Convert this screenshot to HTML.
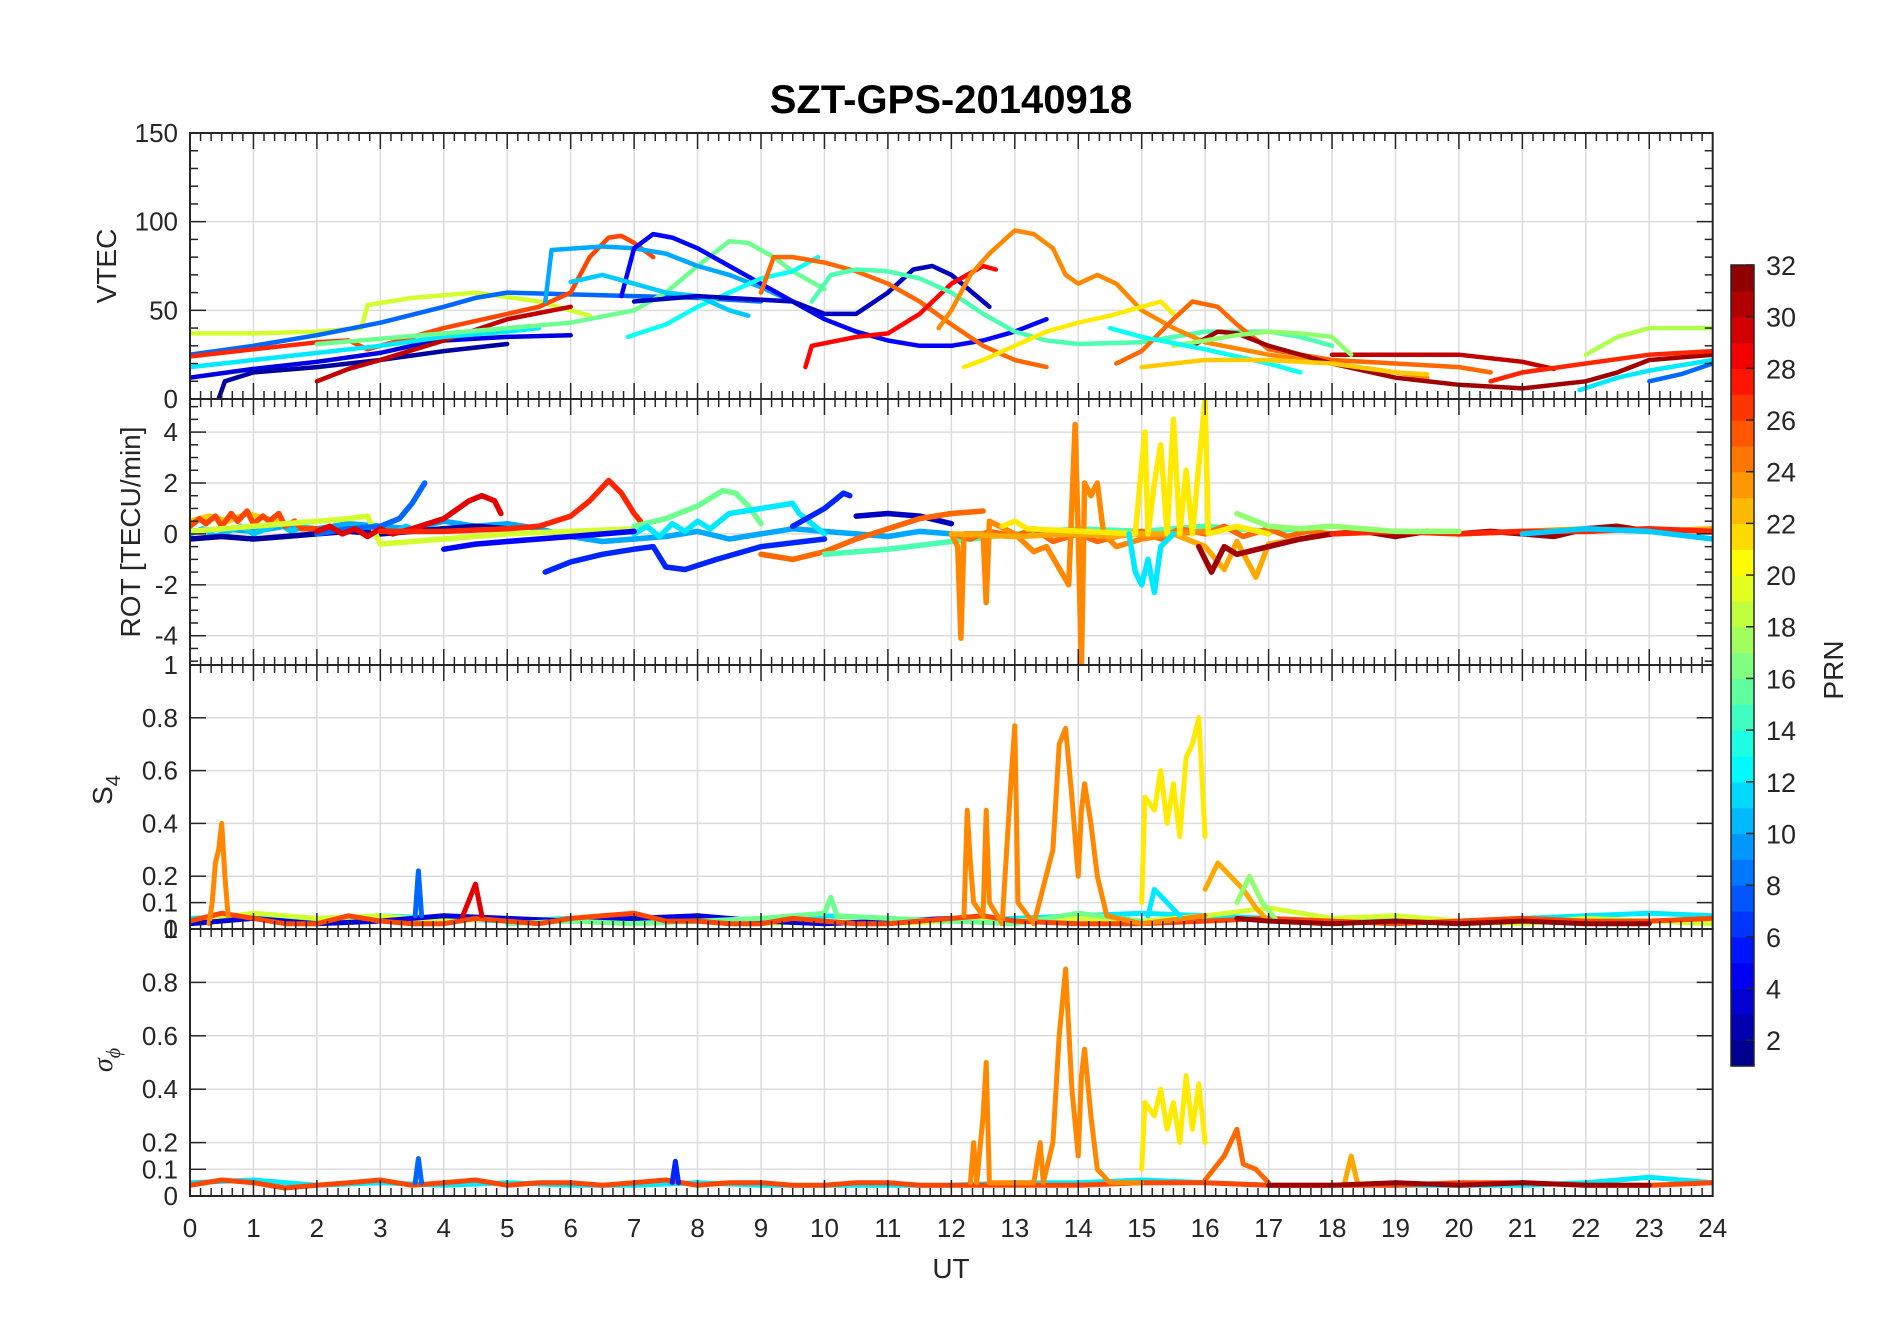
<!DOCTYPE html>
<html><head><meta charset="utf-8"><style>
html,body{margin:0;padding:0;background:#fff;}
svg{display:block;font-family:"Liberation Sans",Arial,sans-serif;}
</style></head><body>
<svg id="fig" width="1902" height="1330" viewBox="0 0 1902 1330" xmlns="http://www.w3.org/2000/svg">
<rect x="0" y="0" width="1902" height="1330" fill="#fff"/>
<text x="951" y="113" text-anchor="middle" font-size="40" font-weight="bold" fill="#000">SZT-GPS-20140918</text>
<g id="grid"></g>
<g id="marks"></g>
<g id="axes"></g>
<g id="cbar"></g>
<text transform="translate(116,266) rotate(-90)" text-anchor="middle" font-size="28" fill="#262626">VTEC</text>
<text transform="translate(140,532) rotate(-90)" text-anchor="middle" font-size="28" fill="#262626">ROT [TECU/min]</text>
<text transform="translate(112,790) rotate(-90)" text-anchor="middle" font-size="28" fill="#262626">S<tspan font-size="20" dy="8">4</tspan></text>
<text transform="translate(112,1060) rotate(-90)" text-anchor="middle" font-size="28" font-style="italic" font-family="Liberation Serif, serif" fill="#262626">σ<tspan font-size="20" dy="8">ϕ</tspan></text>
<text x="951" y="1278" text-anchor="middle" font-size="28" fill="#262626">UT</text>
<text transform="translate(1843,670) rotate(-90)" text-anchor="middle" font-size="28" fill="#262626">PRN</text>
</svg>
<script>
// ---------- data ----------
const hourTicks = [0,1,2,3,4,5,6,7,8,9,10,11,12,13,14,15,16,17,18,19,20,21,22,23,24];
const vtecTicks = [0,50,100,150];
const rotTicks = [-4,-2,0,2,4];
const s4Ticks = [0,0.1,0.2,0.4,0.6,0.8,1];
const sigTicks = [0,0.1,0.2,0.4,0.6,0.8,1];
const prnTicks = [2,4,6,8,10,12,14,16,18,20,22,24,26,28,30,32];

// VTEC tracks: [prn, [[UT, TECU], ...]]
const vtecTracks = [
 [19,[[0,37],[1,37],[2,38],[2.7,40],[2.8,53],[3.5,57],[4.5,60],[5.5,55],[6.3,47]]],
 [8,[[0,25],[1,30],[2,36],[3,43],[4,52],[4.5,57],[5,60],[6,59],[7,58],[8,57],[9,55]]],
 [4,[[0,12],[1,17],[2,21],[3,26],[3.5,30],[4,33],[5,35],[6,36]]],
 [2,[[0.45,0],[0.55,10],[1,15],[2,18],[3,22],[4,27],[5,31]]],
 [27,[[0,24],[0.5,26],[1,28],[1.5,30],[2,32],[2.5,33]]],
 [26,[[2.5,33],[2.8,28],[3.2,32],[4,40],[5,48],[5.5,52],[6,60],[6.3,80],[6.6,91],[6.8,92],[7,88],[7.3,80]]],
 [30,[[2,10],[2.5,17],[3,22],[4,33],[5,45],[6,52]]],
 [12,[[0,18],[1,22],[2,26],[3,30],[4,35],[5,38],[5.5,40]]],
 [16,[[2,31],[3,34],[4,37],[5,40],[6,43],[7,50],[7.5,60],[8,75],[8.5,89],[8.8,88],[9.2,80],[9.5,72],[10,62]]],
 [10,[[5.6,55],[5.7,84],[6.5,86],[7,85],[7.5,82],[8,75],[8.5,70],[9,63],[9.5,55],[10,45]]],
 [5,[[6.8,58],[7,85],[7.3,93],[7.6,91],[8,85],[8.5,75],[9,65],[9.5,55],[10,45],[10.5,38],[11,33],[11.5,30],[12,30],[12.5,33],[13,38],[13.5,45]]],
 [13,[[6.9,35],[7.5,42],[8,52],[8.5,60],[9,68],[9.5,72],[9.9,80]]],
 [11,[[6,66],[6.5,70],[7,65],[7.5,60],[8,58],[8.5,50],[8.8,47]]],
 [3,[[7,55],[8,58],[9,56],[9.5,55],[10,48],[10.5,48],[11,60],[11.4,73],[11.7,75],[12,70],[12.5,55],[12.6,52]]],
 [25,[[9,60],[9.2,80],[9.5,80],[10,77],[10.5,72],[11,65],[11.5,55],[12,42],[12.5,30],[13,22],[13.5,18]]],
 [28,[[9.7,18],[9.8,30],[10.5,35],[11,37],[11.5,48],[12,65],[12.5,75],[12.7,73]]],
 [15,[[9.8,55],[10.1,70],[10.5,73],[11,72],[11.5,68],[12,60],[12.5,48],[13,38],[13.5,33],[14,31],[15,32],[16,38],[17,38],[17.5,35],[18,30]]],
 [24,[[11.8,40],[12,50],[12.3,70],[12.6,82],[13,95],[13.3,93],[13.6,85],[13.8,70],[14,65],[14.3,70],[14.6,65],[15,50],[15.5,40],[16,32],[17,25],[18,20],[19,15],[19.5,12]]],
 [21,[[12.2,18],[12.5,22],[13,30],[13.5,38],[14,43],[14.5,47],[15,52],[15.3,55],[15.5,48]]],
 [25,[[14.6,20],[15,27],[15.5,45],[15.8,55],[16.2,52],[16.5,42],[17,28],[18,22],[19,20],[20,18],[20.5,15]]],
 [31,[[15.8,30],[16.2,38],[16.5,37],[17,30],[18,20],[19,12],[20,8],[21,6],[22,10],[22.5,15],[23,22],[24,25]]],
 [30,[[18,25],[19,25],[20,25],[21,21],[21.5,17]]],
 [17,[[15.5,30],[16.5,36],[17,38],[17.5,37],[18,35],[18.3,25]]],
 [18,[[22,25],[22.5,35],[23,40],[24,40]]],
 [27,[[20.5,10],[21,15],[22,20],[23,25],[24,27]]],
 [12,[[21.9,5],[22.5,12],[23,16],[24,22]]],
 [8,[[23,10],[23.5,14],[24,20]]],
 [13,[[14.5,40],[15,35],[16,28],[17,20],[17.5,15]]],
 [22,[[15,18],[16,22],[17,22],[18,20],[19,15],[19.5,14]]]
];

// ROT tracks: [prn, [[UT, TECU/min], ...]]
const rotTracks = [
 [10,[[0,0.1],[0.5,0.2],[1,0.1],[1.5,0.3],[2,0.2],[2.5,0.4],[3,0.3],[3.5,0.2],[4,0.5],[4.5,0.3],[5,0.4],[5.5,0.2],[6,-0.1],[6.5,-0.3],[7,-0.2],[7.5,-0.1],[8,0.1],[8.5,-0.2],[9,0],[9.5,0.2],[10,0.1],[10.5,0],[11,-0.1],[11.5,0.1],[12,0]]],
 [11,[[0,0],[0.2,0.2],[0.4,-0.1],[0.6,0.1],[0.8,0.3],[1,0],[1.2,0.2],[1.4,0.4],[1.6,0.1],[1.8,0.3],[2,0],[2.2,0.2],[2.4,0.1],[2.6,0.3],[2.8,0.1],[3,0.2],[3.2,0],[3.4,0.3],[3.6,0.1],[3.8,0.2]]],
 [2,[[0,-0.2],[0.5,-0.1],[1,-0.2],[1.5,-0.1],[2,0],[2.5,0.1],[3,0],[3.5,0.1],[4,0.2],[4.5,0.3],[5,0.2]]],
 [22,[[0,0.5],[0.3,0.7],[0.6,0.5],[0.9,0.8],[1.2,0.6],[1.5,0.4]]],
 [26,[[0,0.3],[0.15,0.6],[0.25,0.4],[0.4,0.7],[0.5,0.3],[0.65,0.8],[0.75,0.5],[0.9,0.9],[1,0.4],[1.15,0.7],[1.25,0.5],[1.4,0.8],[1.5,0.3],[1.65,0.5],[1.75,0.2],[2,0.2]]],
 [19,[[0,0.1],[0.5,0.2],[1,0.3],[1.5,0.4],[2,0.5],[2.5,0.6],[2.8,0.7],[3,-0.4],[3.5,-0.3],[4,-0.2],[5,0],[6,0.1],[7,0.2]]],
 [8,[[2,0],[2.5,0.2],[3,0.3],[3.3,0.6],[3.5,1.2],[3.7,2]]],
 [29,[[2,0.1],[2.2,0.3],[2.4,0],[2.6,0.2],[2.8,-0.1],[3,0.2],[3.2,0],[3.5,0.2],[4,0.6],[4.4,1.3],[4.6,1.5],[4.8,1.3],[4.9,0.8]]],
 [27,[[3,0.1],[4,0.1],[5,0.2],[5.5,0.3],[6,0.7],[6.3,1.3],[6.6,2.1],[6.8,1.6],[7,0.8],[7.1,0.5]]],
 [16,[[7,0.3],[7.5,0.6],[8,1.1],[8.4,1.7],[8.6,1.6],[8.8,1.1],[9,0.4]]],
 [12,[[7,0],[7.2,0.3],[7.4,-0.1],[7.6,0.4],[7.8,0.1],[8,0.5],[8.2,0.2],[8.5,0.8],[9,1],[9.5,1.2],[9.6,0.8],[10,0]]],
 [6,[[9.5,0.3],[10,1],[10.3,1.6],[10.4,1.5]]],
 [3,[[10.5,0.7],[11,0.8],[11.5,0.7],[12,0.4]]],
 [5,[[4,-0.6],[4.5,-0.4],[5,-0.3],[5.5,-0.2],[6,-0.1],[7,0.1]]],
 [6,[[5.6,-1.5],[6,-1.1],[6.5,-0.8],[7,-0.6],[7.3,-0.5],[7.5,-1.3],[7.8,-1.4],[8.3,-1],[9,-0.5],[10,-0.2]]],
 [25,[[9,-0.8],[9.5,-1],[10,-0.7],[10.5,-0.2],[11,0.2],[11.5,0.6],[12,0.8],[12.5,0.9]]],
 [15,[[10,-0.8],[11,-0.6],[12,-0.3],[13,0],[14,0.2],[15,0.1],[16,0.3],[17,0.1],[18,0.3]]],
 [25,[[12,0],[12.3,-0.2],[12.6,0.1],[13,-0.1],[13.3,0.2],[13.6,-0.3],[14,0],[14.3,-0.3],[14.6,-0.1],[15,0.1],[15.3,-0.2],[15.6,0.2],[16,0],[16.3,0.3],[16.6,-0.1],[17,0.2],[17.3,-0.1],[17.6,0.1],[18,0]]],
 [24,[[12,0],[12.1,-0.5],[12.15,-4.1],[12.2,0],[12.5,0],[12.55,-2.7],[12.6,0.5],[13,0],[13.3,-0.7],[13.5,-0.5],[13.85,-2],[13.95,4.3],[14,0],[14.05,-5.2],[14.1,2],[14.2,1.5],[14.3,2],[14.4,0],[14.6,-0.5],[15,-0.2],[15.5,0],[16,0.1]]],
 [23,[[12,0],[13,-0.1],[14,0],[14.5,-0.1],[15,0],[15.5,0],[16,-0.5],[16.3,-1.4],[16.5,-0.3],[16.8,-1.7],[17,-0.4],[17.5,-0.2],[18,0],[19,0.1],[20,0],[21,0.1],[22,0.2],[23,0.1],[24,0.2]]],
 [21,[[12.8,0.3],[13,0.5],[13.2,0.2],[14.9,0],[15.05,4],[15.1,0],[15.2,2],[15.3,3.5],[15.4,0],[15.5,4.5],[15.6,0],[15.7,2.5],[15.8,0],[16,5.3],[16.05,0],[16.5,0.3],[17,0]]],
 [12,[[14.8,0],[14.9,-1.5],[15,-2],[15.1,-1],[15.2,-2.3],[15.3,-0.5],[15.5,0]]],
 [31,[[15.9,-0.5],[16.1,-1.5],[16.3,-0.5],[16.5,-0.8],[17,-0.5],[17.5,-0.2],[18,0],[18.5,0.1],[19,-0.1],[19.5,0.1],[20,0],[20.5,0.1],[21,0],[21.5,-0.1],[22,0.2],[22.5,0.3],[23,0.1]]],
 [27,[[18,0],[19,0.1],[20,0],[21,0.1],[22,0.1],[23,0.2],[24,0.1]]],
 [17,[[16.5,0.8],[17,0.3],[17.5,0.2],[18,0.3],[19,0.1],[20,0.1]]],
 [11,[[21,0],[22,0.2],[23,0.1],[24,-0.2]]]
];

// S4 tracks: [prn, [[UT, S4], ...]]
const s4Tracks = [
 [12,[[0,0.04],[1,0.05],[2,0.03],[3,0.05],[4,0.04],[5,0.03],[6,0.04],[7,0.03],[8,0.04],[9,0.03],[10,0.05],[11,0.04],[12,0.03],[13,0.04],[14,0.05],[15,0.06],[16,0.05],[17,0.04],[18,0.03],[19,0.04],[20,0.03],[21,0.04],[22,0.05],[23,0.06],[24,0.05]]],
 [19,[[0,0.03],[1,0.06],[2,0.04],[3,0.05],[4,0.03],[5,0.04],[6,0.03],[7,0.02],[8,0.03],[9,0.02],[10,0.03],[11,0.02],[12,0.03],[13,0.03],[14,0.04],[15,0.03],[16,0.05],[17,0.08],[18,0.04],[19,0.05],[20,0.03],[21,0.02],[22,0.04],[23,0.03],[24,0.02]]],
 [4,[[0,0.02],[1,0.04],[2,0.02],[3,0.03],[4,0.05],[5,0.04],[6,0.03],[7,0.04],[8,0.05],[9,0.03],[10,0.02],[11,0.03],[12,0.04]]],
 [16,[[5,0.02],[6,0.03],[7,0.02],[8,0.03],[9,0.04],[10,0.06],[10.1,0.12],[10.2,0.05],[11,0.04],[12,0.03],[13,0.02],[14,0.06],[15,0.03]]],
 [26,[[0,0.03],[0.5,0.06],[1,0.04],[1.5,0.02],[2,0.02],[2.5,0.05],[3,0.03],[3.5,0.02],[4,0.02],[4.5,0.04],[5,0.03],[5.5,0.02],[6,0.04],[6.5,0.05],[7,0.06],[7.5,0.03],[8,0.03],[8.5,0.02],[9,0.02],[9.5,0.04],[10,0.03],[10.5,0.02],[11,0.02],[11.5,0.03],[12,0.04],[12.5,0.05],[13,0.03],[14,0.02],[15,0.02],[16,0.03],[17,0.04],[18,0.03],[19,0.02],[20,0.03],[21,0.04],[22,0.03],[23,0.03],[24,0.04]]],
 [24,[[0.3,0.02],[0.35,0.1],[0.4,0.25],[0.45,0.3],[0.5,0.4],[0.55,0.2],[0.6,0.05]]],
 [8,[[3.55,0.05],[3.6,0.22],[3.65,0.05]]],
 [29,[[4.3,0.05],[4.5,0.17],[4.6,0.05]]],
 [24,[[12.2,0.05],[12.25,0.45],[12.3,0.25],[12.35,0.1],[12.5,0.05],[12.55,0.45],[12.6,0.1],[12.8,0.02],[12.95,0.6],[13,0.77],[13.05,0.1],[13.3,0.02],[13.6,0.3],[13.7,0.7],[13.8,0.76],[13.9,0.5],[14,0.2],[14.05,0.45],[14.1,0.55],[14.2,0.4],[14.3,0.2],[14.45,0.05],[15,0.02],[16,0.05]]],
 [21,[[15,0.1],[15.05,0.5],[15.2,0.45],[15.3,0.6],[15.4,0.4],[15.5,0.55],[15.6,0.35],[15.7,0.65],[15.8,0.7],[15.9,0.8],[16,0.35]]],
 [12,[[15.1,0.05],[15.2,0.15],[15.4,0.1],[15.6,0.05]]],
 [23,[[16,0.15],[16.2,0.25],[16.4,0.2],[16.6,0.15],[16.8,0.08],[17,0.03]]],
 [17,[[16.5,0.1],[16.7,0.2],[16.9,0.1],[17.1,0.04]]],
 [31,[[16.5,0.04],[17,0.03],[18,0.02],[19,0.03],[20,0.02],[21,0.03],[22,0.02],[23,0.02]]]
];

// sigma-phi tracks
const sigTracks = [
 [12,[[0,0.05],[1,0.06],[2,0.04],[3,0.05],[4,0.04],[5,0.05],[6,0.04],[7,0.04],[8,0.05],[9,0.04],[10,0.04],[11,0.04],[12,0.04],[13,0.05],[14,0.05],[15,0.06],[16,0.05],[17,0.04],[18,0.04],[19,0.04],[20,0.04],[21,0.04],[22,0.05],[23,0.07],[24,0.05]]],
 [26,[[0,0.04],[0.5,0.06],[1,0.05],[1.5,0.03],[2,0.04],[2.5,0.05],[3,0.06],[3.5,0.04],[4,0.05],[4.5,0.06],[5,0.04],[5.5,0.05],[6,0.05],[6.5,0.04],[7,0.05],[7.5,0.06],[8,0.04],[8.5,0.05],[9,0.05],[9.5,0.04],[10,0.04],[10.5,0.05],[11,0.05],[11.5,0.04],[12,0.04],[13,0.04],[14,0.04],[15,0.05],[16,0.05],[17,0.04],[18,0.04],[19,0.04],[20,0.05],[21,0.05],[22,0.04],[23,0.04],[24,0.05]]],
 [8,[[3.55,0.05],[3.6,0.14],[3.65,0.05]]],
 [6,[[7.6,0.05],[7.65,0.13],[7.7,0.05]]],
 [24,[[12.3,0.05],[12.35,0.2],[12.4,0.05],[12.5,0.3],[12.55,0.5],[12.6,0.05],[13.3,0.05],[13.4,0.2],[13.45,0.05],[13.6,0.2],[13.7,0.6],[13.8,0.85],[13.9,0.4],[14,0.15],[14.05,0.45],[14.1,0.55],[14.2,0.3],[14.3,0.1],[14.5,0.05],[15,0.05]]],
 [21,[[15,0.1],[15.05,0.35],[15.2,0.3],[15.3,0.4],[15.4,0.25],[15.5,0.35],[15.6,0.2],[15.7,0.45],[15.8,0.25],[15.9,0.42],[16,0.2]]],
 [25,[[16,0.06],[16.3,0.15],[16.5,0.25],[16.6,0.12],[16.8,0.1],[17,0.05]]],
 [23,[[18.2,0.05],[18.3,0.15],[18.4,0.05]]],
 [31,[[17,0.04],[18,0.04],[19,0.05],[20,0.04],[21,0.05],[22,0.04],[23,0.04]]]
];

// ---------- layout ----------
const NS = 'http://www.w3.org/2000/svg';
const X0 = 190, X1 = 1712.7;
const panels = [
 {name:'vtec', top:133, bot:399, ymin:0, ymax:150, ticks:vtecTicks, grid:[50,100], minor:10, tracks:vtecTracks, sw:4.5},
 {name:'rot', top:399, bot:665, ymin:-5.15, ymax:5.3, ticks:rotTicks, grid:[-4,-2,0,2,4], minor:0.5, tracks:rotTracks, sw:5.5},
 {name:'s4', top:665, bot:929, ymin:0, ymax:1, ticks:s4Ticks, grid:[0.1,0.2,0.4,0.6,0.8], minor:0, tracks:s4Tracks, sw:5},
 {name:'sigma', top:929, bot:1196, ymin:0, ymax:1, ticks:sigTicks, grid:[0.1,0.2,0.4,0.6,0.8], minor:0, tracks:sigTracks, sw:5}
];
function xs(t){ return X0 + t*(X1-X0)/24; }
function ys(p,v){ return p.bot - (v-p.ymin)*(p.bot-p.top)/(p.ymax-p.ymin); }
function jet(prn){
  const x = (prn-1)/31;
  const c = k => Math.round(255*Math.max(0,Math.min(1,1.5-Math.abs(4*x-k))));
  return 'rgb('+c(3)+','+c(2)+','+c(1)+')';
}
function mk(tag, attrs, parent){
  const e = document.createElementNS(NS, tag);
  for (const k in attrs) e.setAttribute(k, attrs[k]);
  parent.appendChild(e); return e;
}
const gGrid = document.getElementById('grid');
const gMarks = document.getElementById('marks');
const gAxes = document.getElementById('axes');
const gC = document.getElementById('cbar');
const axisCol = '#262626';

panels.forEach(p => {
  hourTicks.forEach(h => {
    if (h===0||h===24) return;
    const l = mk('line',{x1:xs(h),x2:xs(h),y1:p.top,y2:p.bot,stroke:'#dcdcdc','stroke-width':1.5},gGrid);
    
    
  });
  p.grid.forEach(v => {
    const l = mk('line',{x1:X0,x2:X1,y1:ys(p,v),y2:ys(p,v),stroke:'#dcdcdc','stroke-width':1.5},gGrid);
    
    
  });
  const clipId = 'clip-'+p.name;
  const cp = mk('clipPath',{id:clipId},gMarks);
  mk('rect',{x:X0,y:p.top,width:X1-X0,height:p.bot-p.top},cp);
  const g = mk('g',{'clip-path':'url(#'+clipId+')'},gMarks);
  
  
  p.tracks.forEach(tr => {
    const prn = tr[0], pts = tr[1];
    const d = pts.map((q,i)=>(i?'L':'M')+xs(q[0]).toFixed(1)+' '+ys(p,q[1]).toFixed(1)).join(' ');
    const path = mk('path',{d:d,fill:'none',stroke:jet(prn),'stroke-width':p.sw,'stroke-linejoin':'round','stroke-linecap':'round'},g);
    
    
  });
  const box = mk('rect',{x:X0,y:p.top,width:X1-X0,height:p.bot-p.top,fill:'none',stroke:axisCol,'stroke-width':2},gAxes);
  
  
  for (let i=0;i<=24*6;i++){
    const t=i/6, major=(i%6===0), len=major?16:8;
    [p.top,p.bot].forEach((yy,k)=>{
      const dir = k===0?1:-1;
      mk('line',{x1:xs(t),x2:xs(t),y1:yy,y2:yy+dir*len,stroke:axisCol,'stroke-width':1.5},gAxes);
    });
  }
  if (p.minor){
    const start = Math.ceil(p.ymin/p.minor)*p.minor;
    for (let v=start; v<=p.ymax+1e-9; v+=p.minor){
      const isMaj = p.ticks.some(tk=>Math.abs(tk-v)<1e-6);
      const len = isMaj?16:8;
      mk('line',{x1:X0,x2:X0+len,y1:ys(p,v),y2:ys(p,v),stroke:axisCol,'stroke-width':1.5},gAxes);
      mk('line',{x1:X1,x2:X1-len,y1:ys(p,v),y2:ys(p,v),stroke:axisCol,'stroke-width':1.5},gAxes);
    }
  } else {
    p.ticks.forEach(v=>{
      mk('line',{x1:X0,x2:X0+16,y1:ys(p,v),y2:ys(p,v),stroke:axisCol,'stroke-width':1.5},gAxes);
      mk('line',{x1:X1,x2:X1-16,y1:ys(p,v),y2:ys(p,v),stroke:axisCol,'stroke-width':1.5},gAxes);
    });
  }
  p.ticks.forEach(v=>{
    const t = mk('text',{x:178,y:ys(p,v)+9,'text-anchor':'end','font-size':26,fill:axisCol},gAxes);
    t.textContent = String(v);
    
    
  });
});
hourTicks.forEach(h=>{
  const t = mk('text',{x:xs(h),y:1237,'text-anchor':'middle','font-size':26,fill:axisCol},gAxes);
  t.textContent = String(h);
  
  
});
const CB = {x:1731, w:23, top:265, bot:1066, min:1, max:32};
function cy(v){ return CB.bot - (v-CB.min)*(CB.bot-CB.top)/(CB.max-CB.min); }
for (let k=1;k<32;k++){
  const r = mk('rect',{x:CB.x,y:cy(k+1),width:CB.w,height:cy(k)-cy(k+1)+0.6,fill:jet(k+0.5)},gC);
  
  
}
const cbBox = mk('rect',{x:CB.x,y:CB.top,width:CB.w,height:CB.bot-CB.top,fill:'none',stroke:axisCol,'stroke-width':1.5},gC);


prnTicks.forEach(v=>{
  mk('line',{x1:CB.x+CB.w,x2:CB.x+CB.w-8,y1:cy(v),y2:cy(v),stroke:axisCol,'stroke-width':1.5},gC);
  const t = mk('text',{x:1766,y:cy(v)+10,'font-size':27,fill:axisCol},gC);
  t.textContent = String(v);
  
  
});
</script>
</body></html>
